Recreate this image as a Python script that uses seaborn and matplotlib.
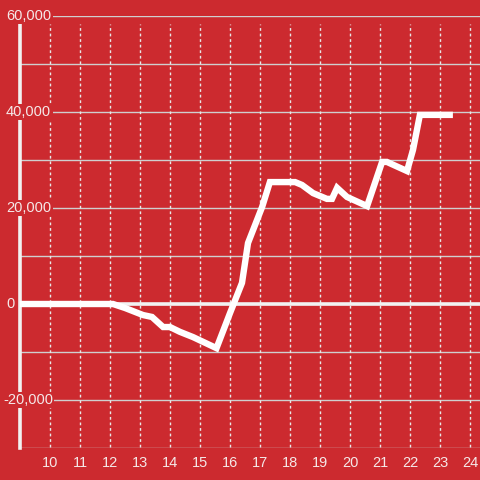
#!/usr/bin/env python3
"""Cumulative line on red background."""

import matplotlib

matplotlib.use("Agg")

import matplotlib.pyplot as plt
import pandas as pd
import seaborn as sns

BG = "#cc2a2f"
TEXT = "#f5e8e8"

x_vals = [9.0, 12.0, 12.1, 12.5, 13.1, 13.4, 13.77, 14.0, 14.33, 14.77, 15.55,
          16.0, 16.4, 16.6, 17.07, 17.33, 18.17, 18.4, 18.77, 19.23, 19.4,
          19.57, 19.9, 20.57, 21.07, 21.23, 21.9, 22.1, 22.33, 23.43]
y_vals = [0, 0, 0, -830, -2300, -2700, -4800, -4800, -5800, -6900, -9200,
          -1900, 4400, 12700, 20200, 25400, 25400, 24800, 23100, 21900, 21900,
          24200, 22300, 20400, 29600, 29600, 27700, 32100, 39400, 39400]
x_ticks = list(range(10, 25))
y_labels = [60000, 40000, 20000, 0, -20000]

sns.set_theme(style="white")
plt.rcParams["font.family"] = ["Liberation Sans", "DejaVu Sans"]

fig = plt.figure(figsize=(4.8, 4.8), dpi=100, facecolor=BG)
ax = fig.add_axes([20 / 480, 32 / 480, 460 / 480, 432 / 480])
ax.set_facecolor(BG)

df = pd.DataFrame({"x": x_vals, "y": y_vals})

ax.set_xlim(9, 24 + 1 / 3)
ax.set_ylim(-30000, 60000)

# grid
for yv in range(-30000, 60001, 10000):
    ax.axhline(yv, color="#cfcfcf", linewidth=1.0, zorder=1)
for xv in x_ticks:
    ax.plot([xv, xv], [-29800, 58300], color="#e8e8e8", linewidth=1.0,
            linestyle=(0, (2, 2)), zorder=1)
ax.axhline(0, color="#f2f2f2", linewidth=2.6, zorder=2)

sns.lineplot(data=df, x="x", y="y", color="white", linewidth=4.6, ax=ax,
             zorder=3, solid_capstyle="butt", solid_joinstyle="miter")

for s in ["top", "right", "bottom"]:
    ax.spines[s].set_visible(False)
ax.spines["left"].set_color("#f2f2f2")
ax.spines["left"].set_linewidth(2.6)

ax.set_xticks(x_ticks)
ax.set_xticklabels([str(t) for t in x_ticks])
ax.tick_params(axis="x", colors=TEXT, labelsize=10.5, length=0, pad=6)
ax.set_yticks([])
ax.set_xlabel("")
ax.set_ylabel("")

for yv in y_labels:
    xpos = 9 - 14 / 30 if yv >= 0 else 9 - 17 / 30
    ax.text(xpos, yv, f"{yv:,}", ha="left", va="center", fontsize=10.5,
            color=TEXT, zorder=6, clip_on=False,
            bbox=dict(facecolor=BG, edgecolor="none", pad=1.0))

fig.savefig("out.png", dpi=100, facecolor=BG)
